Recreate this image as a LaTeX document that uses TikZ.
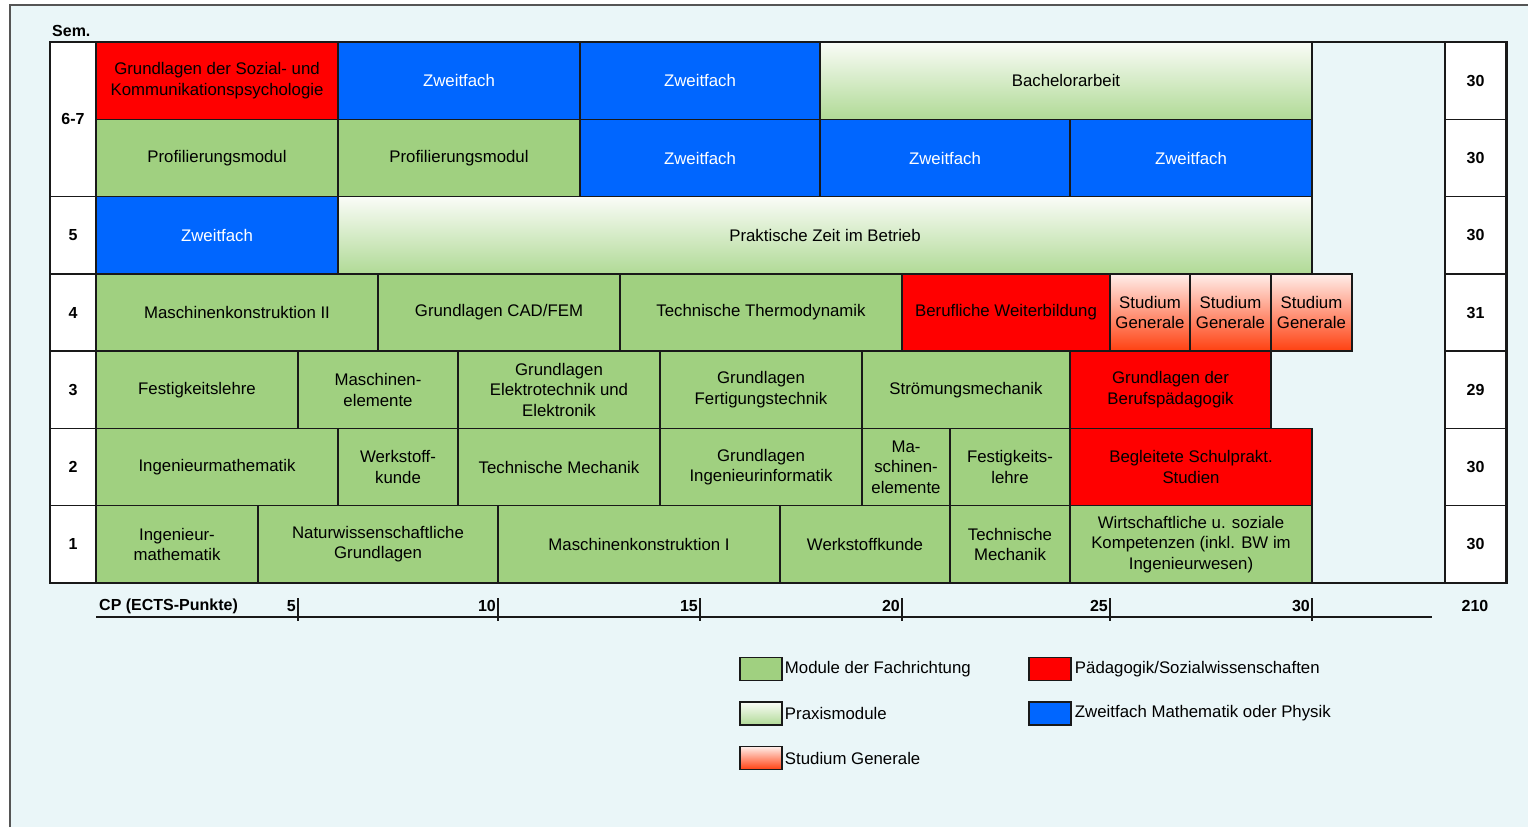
\documentclass[tikz,border=0pt]{standalone}
\usepackage{fontspec}
\setmainfont{Liberation Sans}
\usetikzlibrary{positioning}
\definecolor{bgblue}{RGB}{234,246,248}
\definecolor{fgreen}{RGB}{160,208,128}
\definecolor{zblue}{RGB}{0,102,255}
\definecolor{pred}{RGB}{255,0,0}
\definecolor{pxtop}{RGB}{250,252,247}
\definecolor{pxbot}{RGB}{176,218,150}
\definecolor{sgtop}{RGB}{255,238,234}
\definecolor{sgbot}{RGB}{255,64,16}
\definecolor{gridc}{RGB}{25,25,25}
\definecolor{framec}{RGB}{85,85,85}
\begin{document}
\begin{tikzpicture}[x=1pt, y=-1pt,
        modcell/.style={draw=gridc, line width=1.5pt, inner sep=0pt, outer sep=0pt,
            minimum height=77.3pt, align=center, font=\fontsize{16.8}{20.5}\selectfont},
        fachcell/.style={modcell, fill=fgreen},
        zweitcell/.style={modcell, fill=zblue, text=white},
        paedcell/.style={modcell, fill=pred},
        praxcell/.style={modcell, top color=pxtop, bottom color=pxbot},
        sgcell/.style={modcell, top color=sgtop, bottom color=sgbot},
        semcell/.style={modcell, fill=white, minimum width=46pt, font=\fontsize{16}{19}\selectfont\bfseries},
        cpcell/.style={modcell, fill=white, minimum width=61pt, font=\fontsize{16}{19}\selectfont\bfseries},
        swatch/.style={draw=gridc, line width=1.5pt, minimum width=42pt, minimum height=23pt, inner sep=0pt},
        legtext/.style={inner sep=0pt, font=\fontsize{16.8}{20}\selectfont},
        axlabel/.style={inner sep=0pt, font=\fontsize{16}{19}\selectfont\bfseries}]
    \useasboundingbox (0,0) rectangle (1528,827);
    \fill[bgblue] (10,5) rectangle (1528,827);
    \draw[framec, line width=2pt] (10,827) -- (10,5) -- (1528,5);

    \node[axlabel, anchor=west] (sem) at (52,31) {Sem.};

    % semester 6-7
    \node[paedcell, minimum width=242pt] (a1) at (217,80.6) {Grundlagen der Sozial- und\\Kommunikationspsychologie};
    \node[zweitcell, minimum width=242pt] (a2) at (459,80.6) {Zweitfach};
    \node[zweitcell, minimum width=240pt] (a3) at (700,80.6) {Zweitfach};
    \node[praxcell, minimum width=492pt] (a4) at (1066,80.6) {Bachelorarbeit};

    \node[fachcell, minimum width=242pt] (b1) at (217,158) {Profilierungsmodul};
    \node[fachcell, minimum width=242pt] (b2) at (459,158) {Profilierungsmodul};
    \node[zweitcell, minimum width=240pt] (b3) at (700,158) {Zweitfach};
    \node[zweitcell, minimum width=250pt] (b4) at (945,158) {Zweitfach};
    \node[zweitcell, minimum width=242pt] (b5) at (1191,158) {Zweitfach};

    % semester 5
    \node[zweitcell, minimum width=242pt] (c1) at (217,235.3) {Zweitfach};
    \node[praxcell, minimum width=974pt] (c2) at (825,235.3) {Praktische Zeit im Betrieb};

    % semester 4
    \node[fachcell, minimum width=282pt] (d1) at (237,312.5) {Maschinenkonstruktion II};
    \node[fachcell, minimum width=242pt] (d2) at (499,312.5) {Grundlagen CAD/FEM};
    \node[fachcell, minimum width=282pt] (d3) at (761,312.5) {Technische Thermodynamik};
    \node[paedcell, minimum width=208pt] (d4) at (1006,312.5) {Berufliche Weiterbildung};
    \node[sgcell, minimum width=80pt] (d5) at (1150,312.5) {Studium\\Generale};
    \node[sgcell, minimum width=81pt] (d6) at (1230.5,312.5) {Studium\\Generale};
    \node[sgcell, minimum width=81pt] (d7) at (1311.5,312.5) {Studium\\Generale};

    % semester 3
    \node[fachcell, minimum width=202pt] (e1) at (197,389.8) {Festigkeitslehre};
    \node[fachcell, minimum width=160pt] (e2) at (378,389.8) {Maschinen-\\elemente};
    \node[fachcell, minimum width=202pt] (e3) at (559,389.8) {Grundlagen\\Elektrotechnik und\\Elektronik};
    \node[fachcell, minimum width=202pt] (e4) at (761,389.8) {Grundlagen\\Fertigungstechnik};
    \node[fachcell, minimum width=208pt] (e5) at (966,389.8) {Strömungsmechanik};
    \node[paedcell, minimum width=201pt] (e6) at (1170.5,389.8) {Grundlagen der\\Berufspädagogik};

    % semester 2
    \node[fachcell, minimum width=242pt] (f1) at (217,467) {Ingenieurmathematik};
    \node[fachcell, minimum width=120pt] (f2) at (398,467) {Werkstoff-\\kunde};
    \node[fachcell, minimum width=202pt] (f3) at (559,467) {Technische Mechanik};
    \node[fachcell, minimum width=202pt] (f4) at (761,467) {Grundlagen\\Ingenieurinformatik};
    \node[fachcell, minimum width=88pt] (f5) at (906,467) {Ma-\\schinen-\\elemente};
    \node[fachcell, minimum width=120pt] (f6) at (1010,467) {Festigkeits-\\lehre};
    \node[paedcell, minimum width=242pt] (f7) at (1191,467) {Begleitete Schulprakt.\\Studien};

    % semester 1
    \node[fachcell, minimum width=162pt] (g1) at (177,544.3) {Ingenieur-\\mathematik};
    \node[fachcell, minimum width=240pt] (g2) at (378,544.3) {Naturwissenschaftliche\\Grundlagen};
    \node[fachcell, minimum width=282pt] (g3) at (639,544.3) {Maschinenkonstruktion I};
    \node[fachcell, minimum width=170pt] (g4) at (865,544.3) {Werkstoffkunde};
    \node[fachcell, minimum width=120pt] (g5) at (1010,544.3) {Technische\\Mechanik};
    \node[fachcell, minimum width=242pt] (g6) at (1191,544.3) {Wirtschaftliche u. soziale\\Kompetenzen (inkl. BW im\\Ingenieurwesen)};

    % semester column
    \node[semcell, minimum height=154.6pt] (s67) at (73,119) {6-7};
    \node[semcell] (s5) at (73,235.3) {5};
    \node[semcell] (s4) at (73,312.5) {4};
    \node[semcell] (s3) at (73,389.8) {3};
    \node[semcell] (s2) at (73,467) {2};
    \node[semcell] (s1) at (73,544.3) {1};

    % credit column
    \node[cpcell] (cpa) at (1475.5,80.6) {30};
    \node[cpcell] (cpb) at (1475.5,158) {30};
    \node[cpcell] (cp5) at (1475.5,235.3) {30};
    \node[cpcell] (cp4) at (1475.5,312.5) {31};
    \node[cpcell] (cp3) at (1475.5,389.8) {29};
    \node[cpcell] (cp2) at (1475.5,467) {30};
    \node[cpcell] (cp1) at (1475.5,544.3) {30};

    \draw[gridc, line width=1.5pt] (50,42) rectangle (1507,583);

    % CP axis
    \coordinate (ax0) at (96,617);
    \coordinate (ax1) at (1432,617);
    \draw[gridc, line width=1.5pt] (ax0) -- (ax1);
    \node[axlabel, anchor=west] (cp) at (99,606) {CP (ECTS-Punkte)};
    \foreach \x/\v in {298/5, 498/10, 700/15, 902/20, 1110/25, 1312/30} {
        \draw[gridc, line width=1.5pt] (\x,598) -- (\x,621);
        \node[axlabel, anchor=east] at (\x-2,606) {\v};
    }
    \node[axlabel] (sum) at (1475,606) {210};

    % legend
    \node[swatch, fill=fgreen] (k1) at (761,669) {};
    \node[swatch, top color=pxtop, bottom color=pxbot, below=20pt of k1] (k2) {};
    \node[swatch, top color=sgtop, bottom color=sgbot, below=20pt of k2] (k3) {};
    \node[swatch, fill=pred] (k4) at (1050,669) {};
    \node[swatch, fill=zblue, below=20pt of k4] (k5) {};
    \node[legtext, right=2pt of k1] (t1) {Module der Fachrichtung};
    \node[legtext, right=2pt of k2] (t2) {Praxismodule};
    \node[legtext, right=2pt of k3] (t3) {Studium Generale};
    \node[legtext, right=3pt of k4] (t4) {Pädagogik/Sozialwissenschaften};
    \node[legtext, right=3pt of k5] (t5) {Zweitfach Mathematik oder Physik};
\end{tikzpicture}
\end{document}
